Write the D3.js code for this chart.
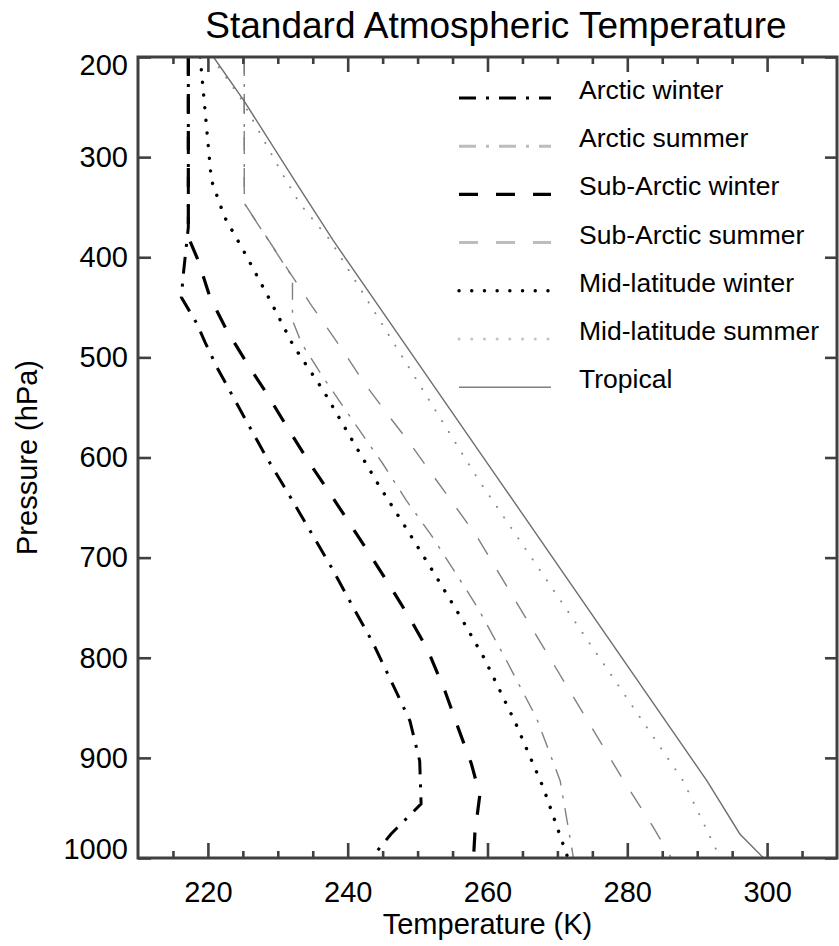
<!DOCTYPE html>
<html>
<head>
<meta charset="utf-8">
<script src="https://cdn.jsdelivr.net/npm/d3@7"></script>
<style>
  body { margin: 0; background: #fff; }
  svg { display: block; font-family: "Liberation Sans", Arial, sans-serif; }
</style>
</head>
<body>
<div class="canvas"></div>
<script>
// profile values: pressure (hPa) and temperature (K)
const arcticWinterP = [200, 370, 416, 440, 466, 485, 510, 561, 600, 636, 673, 710, 746, 785, 823, 863, 903, 946, 976, 1000];
const arcticWinterT = [217.2, 217.2, 216.5, 216.2, 218.4, 219.6, 221.3, 225.3, 228.4, 231.5, 234.6, 237.7, 240.5, 243.6, 246.2, 248.9, 250.3, 250.5, 246.2, 243.4];

const arcticSummerP = [200, 346, 420, 463, 486, 520, 571, 606, 643, 678, 716, 750, 800, 860, 923, 1000];
const arcticSummerT = [225.2, 225.2, 232.1, 232.1, 233.4, 236.5, 241.5, 245.0, 248.4, 252.0, 255.5, 258.6, 262.5, 267.0, 270.4, 272.3];

const subArcticWinterP = [200, 380, 403, 440, 473, 506, 536, 568, 603, 633, 666, 696, 730, 763, 793, 833, 870, 906, 937, 975, 1000];
const subArcticWinterT = [217.2, 217.2, 218.6, 220.3, 222.7, 225.6, 228.4, 231.2, 234.3, 237.2, 240.3, 243.1, 246.2, 249.1, 251.5, 253.9, 255.8, 257.7, 258.9, 258.2, 258.0];

const subArcticSummerP = [200, 346, 448, 493, 525, 555, 583, 616, 646, 678, 923, 968, 1000];
const subArcticSummerT = [225.2, 225.2, 234.8, 239.3, 242.3, 245.5, 248.6, 252.0, 255.1, 258.4, 279.5, 283.6, 286.3];

const midLatWinterP = [200, 323, 360, 396, 443, 488, 533, 581, 626, 671, 716, 761, 800, 865, 930, 1000];
const midLatWinterT = [218.9, 220.5, 222.4, 225.3, 228.9, 232.2, 236.5, 240.5, 244.3, 248.4, 252.4, 256.3, 259.5, 264.0, 268.0, 271.5];

const midLatSummerP = [200, 240, 316, 347, 383, 620, 923, 1000];
const midLatSummerT = [220.5, 224.6, 230.6, 233.2, 237.5, 258.5, 288.0, 293.3];

const tropicalP = [200, 243, 332, 383, 620, 923, 976, 1000];
const tropicalT = [220.8, 225.1, 233.2, 237.9, 261.4, 291.4, 296.1, 299.5];

const names = ["Arctic winter", "Arctic summer", "Sub-Arctic winter", "Sub-Arctic summer",
               "Mid-latitude winter", "Mid-latitude summer", "Tropical"];

const xMajor = [220, 240, 260, 280, 300];
const yTicks = [200, 300, 400, 500, 600, 700, 800, 900, 1000];

// canvas
const width = 839;
const height = 946;
const marginTop = 57;
const marginRight = 2;
const marginBottom = 88;
const marginLeft = 138;

const x = d3.scaleLinear().domain([210, 310]).range([marginLeft, width - marginRight]);
const y = d3.scaleLinear().domain([200, 1000]).range([marginTop, height - marginBottom]);

const svg = d3.select(".canvas").append("svg")
    .attr("width", width)
    .attr("height", height);

function pairs(P, T) {
  return P.map((p, i) => ({p: p, t: T[i]}));
}

// line styles: plot style and legend style
const profiles = [
  {data: pairs(arcticWinterP, arcticWinterT), color: "#000", w: 3, dash: "17,10,3,10", lc: "#000", lw: 3.2},
  {data: pairs(arcticSummerP, arcticSummerT), color: "#808080", w: 1.4, dash: "17,10,3,10", lc: "#bdbdbd", lw: 3},
  {data: pairs(subArcticWinterP, subArcticWinterT), color: "#000", w: 3.2, dash: "19,18", lc: "#000", lw: 3.2},
  {data: pairs(subArcticSummerP, subArcticSummerT), color: "#808080", w: 1.4, dash: "19,18", lc: "#bdbdbd", lw: 3},
  {data: pairs(midLatWinterP, midLatWinterT), color: "#000", w: 3.4, dash: "0.1,12.6", cap: "round", lc: "#000", lw: 3.4},
  {data: pairs(midLatSummerP, midLatSummerT), color: "#8a8a8a", w: 2, dash: "0.1,12.6", cap: "round", lc: "#c4c4c4", lw: 3},
  {data: pairs(tropicalP, tropicalT), color: "#6e6e6e", w: 1.4, dash: null, lc: "#808080", lw: 1.6}
];

svg.append("clipPath").attr("id", "plotclip")
  .append("rect")
    .attr("x", x(210)).attr("y", y(200))
    .attr("width", x(310) - x(210)).attr("height", y(1000) - y(200));

const line = d3.line().x(d => x(d.t)).y(d => y(d.p));

svg.append("g").attr("clip-path", "url(#plotclip)")
  .selectAll("path")
  .data(profiles)
  .join("path")
    .attr("d", d => line(d.data))
    .attr("fill", "none")
    .attr("stroke", d => d.color)
    .attr("stroke-width", d => d.w)
    .attr("stroke-dasharray", d => d.dash)
    .attr("stroke-linecap", d => d.cap || "butt");

// axes (ticks point inward on all four sides)
const axisColor = "#404040";

function styleAxis(g) {
  g.select(".domain").remove();
  g.selectAll(".tick line").attr("stroke", axisColor).attr("stroke-width", 2.6);
  g.selectAll(".tick text").attr("fill", "#000").attr("font-size", 29)
    .attr("font-family", "'Liberation Sans', Arial, sans-serif");
}

const minorX = d3.range(215, 310, 5).filter(v => v % 20 !== 0);

svg.append("g").attr("transform", `translate(0,${y(1000)})`)
  .call(d3.axisBottom(x).tickValues(xMajor).tickSize(-15).tickPadding(23).tickFormat(d3.format("d")))
  .call(styleAxis);
svg.append("g").attr("transform", `translate(0,${y(1000)})`)
  .call(d3.axisBottom(x).tickValues(minorX).tickSize(-7).tickFormat(""))
  .call(styleAxis);
svg.append("g").attr("transform", `translate(0,${y(200)})`)
  .call(d3.axisTop(x).tickValues(xMajor).tickSize(-15).tickFormat(""))
  .call(styleAxis);
svg.append("g").attr("transform", `translate(0,${y(200)})`)
  .call(d3.axisTop(x).tickValues(minorX).tickSize(-7).tickFormat(""))
  .call(styleAxis);

const gy = svg.append("g").attr("transform", `translate(${x(210)},0)`)
  .call(d3.axisLeft(y).tickValues(yTicks).tickSize(-13).tickPadding(10).tickFormat(d3.format("d")))
  .call(styleAxis);
// end labels sit inside the frame
gy.selectAll(".tick text").attr("dy", d => d === 200 ? "0.62em" : d === 1000 ? "0.02em" : "0.32em");

svg.append("g").attr("transform", `translate(${x(310)},0)`)
  .call(d3.axisRight(y).tickValues(yTicks).tickSize(-12).tickFormat(""))
  .call(styleAxis);

// frame
svg.append("rect")
  .attr("x", x(210)).attr("y", y(200))
  .attr("width", x(310) - x(210)).attr("height", y(1000) - y(200))
  .attr("fill", "none").attr("stroke", axisColor).attr("stroke-width", 3);

// titles
svg.append("text")
  .attr("x", 496).attr("y", 38)
  .attr("text-anchor", "middle").attr("font-size", 37)
  .text("Standard Atmospheric Temperature");

svg.append("text")
  .attr("x", (x(210) + x(310)) / 2).attr("y", 934)
  .attr("text-anchor", "middle").attr("font-size", 29)
  .text("Temperature (K)");

svg.append("text")
  .attr("transform", `translate(37,${(y(200) + y(1000)) / 2}) rotate(-90)`)
  .attr("text-anchor", "middle").attr("font-size", 29)
  .text("Pressure (hPa)");

// legend
const legendX1 = 459;
const legendX2 = 551;
const legendTextX = 579;
const legendY = 99;
const legendStep = 48.2;

const legend = svg.selectAll(".legend")
  .data(profiles)
  .join("g")
    .attr("class", "legend")
    .attr("transform", (d, i) => `translate(0,${legendY + i * legendStep})`);

legend.append("line")
  .attr("x1", legendX1).attr("x2", legendX2)
  .attr("y1", -1).attr("y2", -1)
  .attr("stroke", d => d.lc)
  .attr("stroke-width", d => d.lw)
  .attr("stroke-dasharray", d => d.dash)
  .attr("stroke-linecap", d => d.cap || "butt");

legend.append("text")
  .attr("x", legendTextX).attr("y", 0)
  .attr("font-size", 26.5)
  .text((d, i) => names[i]);
</script>
</body>
</html>
